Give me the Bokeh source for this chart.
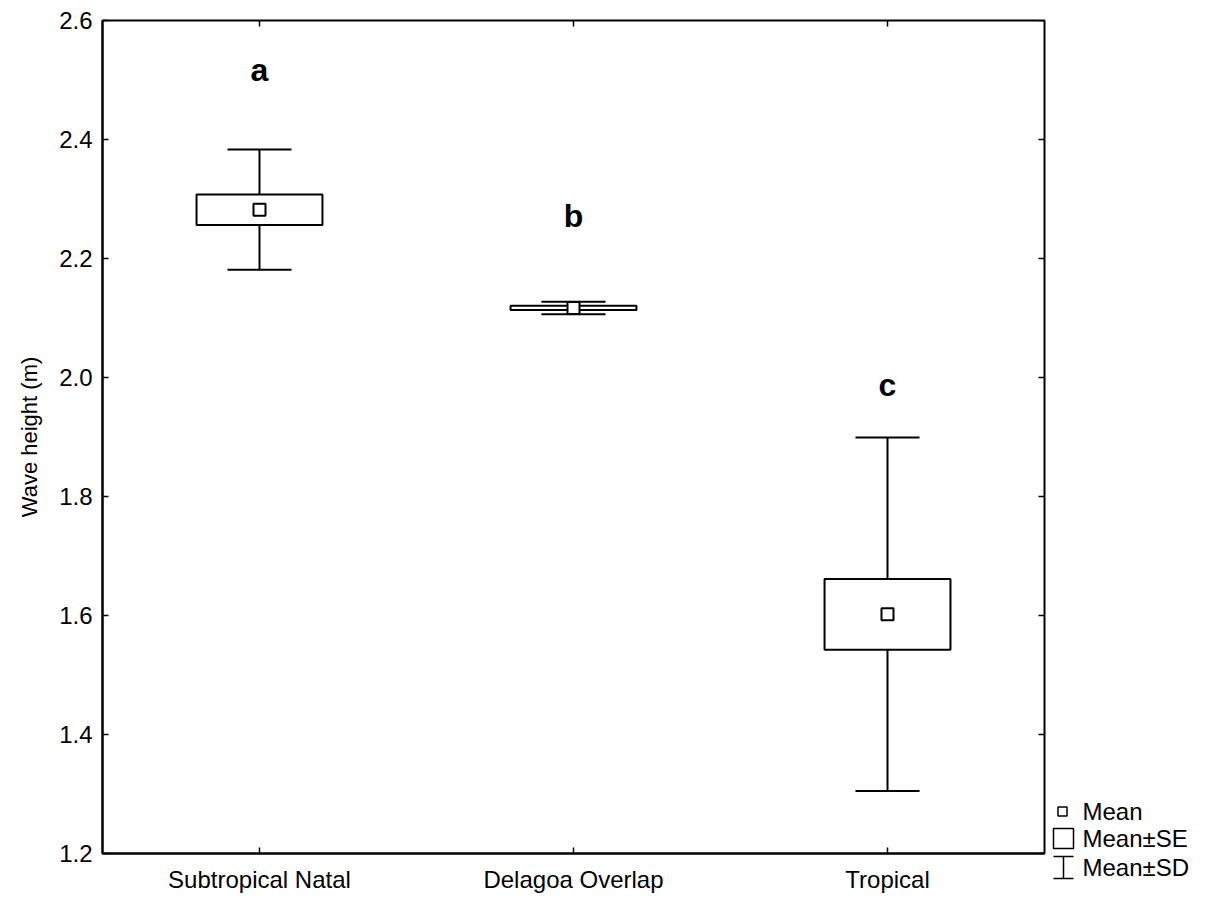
import numpy as np
from bokeh.plotting import figure
from bokeh.models import Range1d, FixedTicker, PrintfTickFormatter, ColumnDataSource
from bokeh.layouts import row
from bokeh.core.properties import value
from bokeh.embed import file_html
from bokeh.resources import INLINE

cats = ["Subtropical Natal", "Delagoa Overlap", "Tropical"]
means = [2.282, 2.117, 1.602]
se = [0.0255, 0.0036, 0.0595]
sd = [0.101, 0.0105, 0.297]
letters = ["a", "b", "c"]
letter_y = [2.516, 2.272, 1.988]
y_ticks = [1.2, 1.4, 1.6, 1.8, 2.0, 2.2, 2.4, 2.6]
legend_labels = ["Mean", "Mean\u00b1SE", "Mean\u00b1SD"]

FONT = "Liberation Sans"
xs = np.arange(len(cats)) + 0.5
m = np.array(means); s = np.array(se); d = np.array(sd)
X0, X1 = 0, 3
Y0, Y1 = 1.2, 2.6

src = ColumnDataSource(dict(
    x=xs, mean=m, se_lo=m - s, se_hi=m + s, sd_lo=m - d, sd_hi=m + d,
    cap_l=xs - 0.102, cap_r=xs + 0.102, letter=letters, ly=letter_y))

p = figure(frame_width=942, frame_height=833, x_range=Range1d(X0, X1), y_range=Range1d(Y0, Y1),
           output_backend="svg", toolbar_location=None,
           min_border_left=102, min_border_top=20, min_border_bottom=46, min_border_right=2)
p.background_fill_color = "white"
p.border_fill_color = "white"
p.outline_line_color = "black"
p.outline_line_width = 2
p.xgrid.visible = False
p.ygrid.visible = False

for ax in (p.xaxis[0], p.yaxis[0]):
    ax.axis_line_width = 2
    ax.major_tick_in = 6
    ax.major_tick_out = 0
    ax.minor_tick_in = 0
    ax.minor_tick_out = 0
    ax.major_tick_line_width = 1.5
    ax.major_label_text_font = FONT
    ax.major_label_text_font_size = "24px"
    ax.major_label_text_color = "black"

p.xaxis.ticker = FixedTicker(ticks=list(xs))
p.xaxis.major_label_overrides = {float(x): c for x, c in zip(xs, cats)}
p.xaxis.major_label_standoff = 12
p.yaxis.ticker = FixedTicker(ticks=y_ticks)
p.yaxis.formatter = PrintfTickFormatter(format="%.1f")
p.yaxis.major_label_standoff = 10
p.yaxis.axis_label = "Wave height (m)"
p.yaxis.axis_label_text_font = FONT
p.yaxis.axis_label_text_font_style = "normal"
p.yaxis.axis_label_text_font_size = "22px"
p.yaxis.axis_label_text_color = "black"
p.yaxis.axis_label_standoff = 14

# inward ticks on right and top edges (screen-length rays)
p.ray(x=[X1] * len(y_ticks), y=y_ticks, length=6, length_units="screen", angle=np.pi,
      line_color="black", line_width=1.5)
p.ray(x=list(xs), y=[Y1] * len(xs), length=6, length_units="screen", angle=-np.pi / 2,
      line_color="black", line_width=1.5)

# whiskers and caps
p.segment(x0="x", y0="sd_lo", x1="x", y1="sd_hi", source=src, line_color="black", line_width=2)
p.segment(x0="cap_l", y0="sd_hi", x1="cap_r", y1="sd_hi", source=src, line_color="black", line_width=2)
p.segment(x0="cap_l", y0="sd_lo", x1="cap_r", y1="sd_lo", source=src, line_color="black", line_width=2)
# SE boxes
p.vbar(x="x", width=0.401, bottom="se_lo", top="se_hi", source=src,
       fill_color="white", line_color="black", line_width=2)
# means
p.scatter(x="x", y="mean", source=src, marker="square", size=12,
          fill_color="white", line_color="black", line_width=2)
# significance letters
p.text(x="x", y="ly", text="letter", source=src, text_font=value(FONT), text_font_style="bold",
       text_font_size="32px", text_align="center", text_baseline="middle", text_color="black")

# legend panel
LW = 161
leg = figure(frame_width=LW, frame_height=899, x_range=Range1d(0, LW), y_range=Range1d(899, 0),
             output_backend="svg", toolbar_location=None,
             min_border_left=0, min_border_right=0, min_border_top=0, min_border_bottom=0)
leg.axis.visible = False
leg.xgrid.visible = False
leg.ygrid.visible = False
leg.outline_line_color = None
leg.border_fill_color = "white"
ox = 0
row_y = [791, 818, 847]
leg.scatter(x=[ox + 16], y=[row_y[0]], marker="square", size=9, fill_color="white",
            line_color="black", line_width=1.5)
leg.quad(left=[ox + 7], right=[ox + 27], top=[row_y[1] - 10], bottom=[row_y[1] + 10],
         fill_color="white", line_color="black", line_width=1.5)
leg.segment(x0=[ox + 17, ox + 7, ox + 7], y0=[row_y[2] - 11, row_y[2] - 11, row_y[2] + 11],
            x1=[ox + 17, ox + 27, ox + 27], y1=[row_y[2] + 11, row_y[2] - 11, row_y[2] + 11],
            line_color="black", line_width=1.5)
leg.text(x=[ox + 36] * 3, y=row_y, text=legend_labels, text_font=value(FONT),
         text_font_size="24px", text_align="left", text_baseline="middle", text_color="black")

layout = row(p, leg)
open("out.html", "w").write(file_html(layout, INLINE))
